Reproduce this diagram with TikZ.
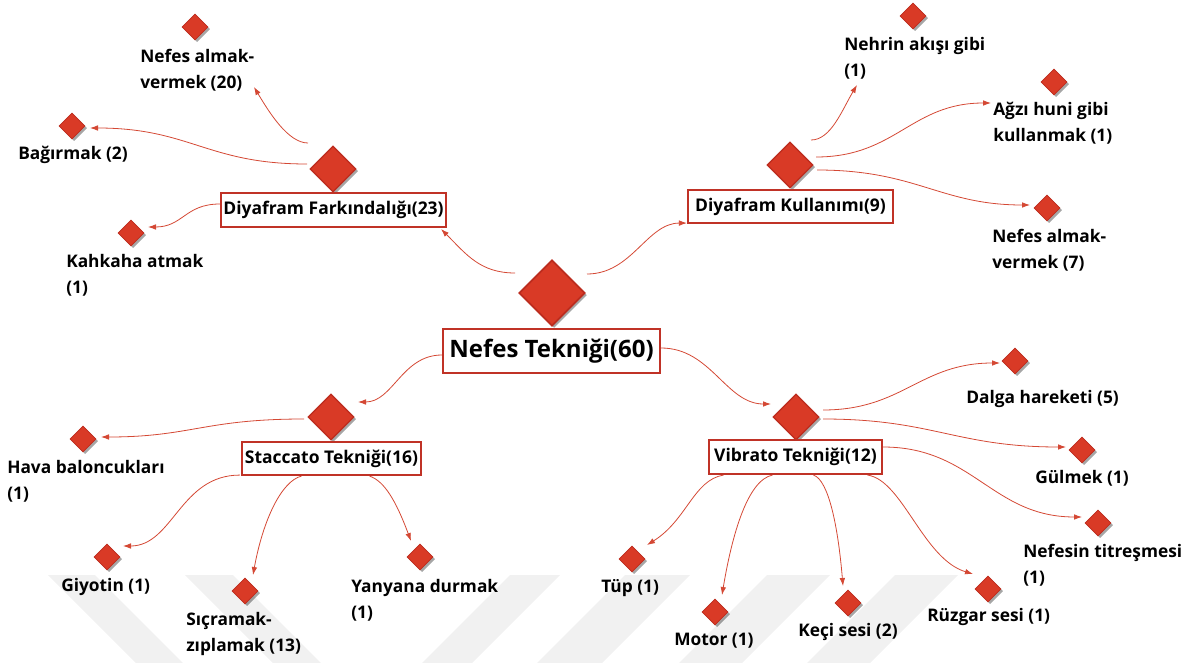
\documentclass[tikz,border=0pt]{standalone}
\usepackage{fontspec}
\setmainfont{Open Sans}
\usetikzlibrary{shapes.geometric,shadows,arrows.meta}

\definecolor{nred}{RGB}{217,58,38}
\definecolor{dred}{RGB}{188,44,30}
\definecolor{bred}{RGB}{192,50,38}
\definecolor{lred}{RGB}{212,72,52}
\definecolor{wmgray}{RGB}{241,241,241}

\tikzset{
	dia/.style={diamond, fill=nred, draw=dred, line width=0.6pt, inner sep=0pt,
		drop shadow={shadow xshift=1.6pt, shadow yshift=-1.6pt, fill=black, opacity=0.35}},
	leafdia/.style={dia, minimum size=19.5pt},
	hubdia/.style={dia, minimum size=34.5pt, line width=0.9pt},
	hub/.style={draw=bred, line width=1.6pt, fill=white, inner sep=0pt,
		font=\fontsize{13.1}{15}\selectfont\bfseries},
	leaf/.style={anchor=west, align=left, inner sep=0pt,
		font=\fontsize{13}{19.5}\selectfont\bfseries},
	link/.style={draw=lred, line width=0.6pt, -{Latex[length=6pt,width=4.2pt]}},
}

\begin{document}
\begin{tikzpicture}[x=0.75pt,y=-0.75pt]
	\useasboundingbox (0,0) rectangle (1185,663);
	
	% faint watermark at the bottom
	\fill[wmgray] (48,575) -- (95,575) -- (183,663) -- (136,663) -- cycle;
	\fill[wmgray] (185,575) -- (233,575) -- (321,663) -- (273,663) -- cycle;
	\fill[wmgray] (510,575) -- (560,575) -- (472,663) -- (422,663) -- cycle;
	\fill[wmgray] (625,575) -- (690,575) -- (602,663) -- (537,663) -- cycle;
	\fill[wmgray] (767,575) -- (830,575) -- (742,663) -- (679,663) -- cycle;
	\fill[wmgray] (895,575) -- (958,575) -- (870,663) -- (807,663) -- cycle;
	
	% centre
	\node[dia, minimum size=49.5pt, line width=1.4pt] (dmain) at (552,293) {};
	\node[hub, minimum width=162.75pt, minimum height=33pt,
		font=\fontsize{18}{21}\selectfont\bfseries] (main) at (551.5,351) {Nefes Tekniği(60)};
	
	% second level
	\node[hubdia] (dfd) at (333,169) {};
	\node[hub, minimum width=168.75pt, minimum height=25.5pt] (fd) at (333.5,210) {Diyafram Farkındalığı(23)};
	\node[hubdia] (dku) at (790,165) {};
	\node[hub, minimum width=153.75pt, minimum height=24.75pt] (ku) at (790.5,206.5) {Diyafram Kullanımı(9)};
	\node[hubdia] (dst) at (331,417) {};
	\node[hub, minimum width=134.25pt, minimum height=24.75pt] (st) at (331.5,458.5) {Staccato Tekniği(16)};
	\node[hubdia] (dvi) at (796,417) {};
	\node[hub, minimum width=129.75pt, minimum height=25.5pt] (vi) at (795.5,457) {Vibrato Tekniği(12)};
	
	% leaves: diamond and label
	\node[leafdia] (dnav20) at (195,27) {};
	\node[leaf] (lnav20) at (140,70) {Nefes almak-\\vermek (20)};
	\node[leafdia] (dbag) at (72,126) {};
	\node[leaf] (lbag) at (18,155) {Bağırmak (2)};
	\node[leafdia] (dkah) at (131,233) {};
	\node[leaf] (lkah) at (66,275) {Kahkaha atmak\\(1)};
	
	\node[leafdia] (dneh) at (913,16) {};
	\node[leaf] (lneh) at (844,58) {Nehrin akışı gibi\\(1)};
	\node[leafdia] (dagz) at (1054,82) {};
	\node[leaf] (lagz) at (993,123) {Ağzı huni gibi\\kullanmak (1)};
	\node[leafdia] (dnav7) at (1047,208) {};
	\node[leaf] (lnav7) at (992,250) {Nefes almak-\\vermek (7)};
	
	\node[leafdia] (dhava) at (83,439) {};
	\node[leaf] (lhava) at (7,481) {Hava baloncukları\\(1)};
	\node[leafdia] (dgiy) at (107,557) {};
	\node[leaf] (lgiy) at (61,587) {Giyotin (1)};
	\node[leafdia] (dsic) at (245,591) {};
	\node[leaf] (lsic) at (186,634) {Sıçramak-\\zıplamak (13)};
	\node[leafdia] (dyan) at (420,557) {};
	\node[leaf] (lyan) at (351,600) {Yanyana durmak\\(1)};
	
	\node[leafdia] (ddal) at (1015,361) {};
	\node[leaf] (ldal) at (966,399) {Dalga hareketi (5)};
	\node[leafdia] (dgul) at (1082,450) {};
	\node[leaf] (lgul) at (1035,478) {Gülmek (1)};
	\node[leafdia] (dnef) at (1098,523) {};
	\node[leaf] (lnef) at (1023,565) {Nefesin titreşmesi\\(1)};
	\node[leafdia] (dtup) at (632,559) {};
	\node[leaf] (ltup) at (601,588) {Tüp (1)};
	\node[leafdia] (dmot) at (715,612) {};
	\node[leaf] (lmot) at (674,641) {Motor (1)};
	\node[leafdia] (dkec) at (848,603) {};
	\node[leaf] (lkec) at (798,632) {Keçi sesi (2)};
	\node[leafdia] (druz) at (988,589) {};
	\node[leaf] (lruz) at (927,617) {Rüzgar sesi (1)};
	
	% centre to second level
	\draw[link] ([shift={(-37,-20)}]dmain.center) .. controls +(-35,0) and +(25,25) .. ([shift={(-6,1)}]fd.south east);
	\draw[link] ([shift={(35,-19)}]dmain.center) .. controls +(45,0) and +(-40,0) .. ([shift={(0,-1)}]ku.south west);
	\draw[link] ([shift={(0,4)}]main.west) .. controls +(-40,0) and +(35,0) .. ([shift={(27,-15)}]dst.center);
	\draw[link] ([shift={(0,-3)}]main.east) .. controls +(50,0) and +(-45,0) .. ([shift={(-25,-13)}]dvi.center);
	
	% Diyafram Farkindaligi
	\draw[link] ([shift={(-25,-26)}]dfd.center) .. controls +(-20,0) and +(15,25) .. ([shift={(59,60)}]dnav20.center);
	\draw[link] ([shift={(-26,-5)}]dfd.center) .. controls +(-100,0) and +(100,0) .. ([shift={(18,2)}]dbag.center);
	\draw[link] ([shift={(0,-6)}]fd.west) .. controls +(-35,0) and +(35,0) .. ([shift={(17,-6)}]dkah.center);
	
	% Diyafram Kullanimi
	\draw[link] ([shift={(21,-25)}]dku.center) .. controls +(20,0) and +(-15,25) .. ([shift={(-56,69)}]dneh.center);
	\draw[link] ([shift={(26,-8)}]dku.center) .. controls +(80,0) and +(-80,0) .. ([shift={(-63,21)}]dagz.center);
	\draw[link] ([shift={(27,5)}]dku.center) .. controls +(100,0) and +(-90,0) .. ([shift={(-17,-3)}]dnav7.center);
	
	% Staccato
	\draw[link] ([shift={(-27,2)}]dst.center) .. controls +(-100,0) and +(90,0) .. ([shift={(18,-2)}]dhava.center);
	\draw[link] ([shift={(-1,-1)}]st.south west) .. controls +(-60,0) and +(50,0) .. ([shift={(16,-11)}]dgiy.center);
	\draw[link] ([shift={(-30,0)}]st.south) .. controls +(-20,5) and +(10,-55) .. ([shift={(8,-16)}]dsic.center);
	\draw[link] ([shift={(38,0)}]st.south) .. controls +(15,5) and +(-15,-40) .. ([shift={(-9,-16)}]dyan.center);
	
	% Vibrato
	\draw[link] ([shift={(27,-7)}]dvi.center) .. controls +(80,0) and +(-80,0) .. ([shift={(-15,2)}]ddal.center);
	\draw[link] ([shift={(27,2)}]dvi.center) .. controls +(110,0) and +(-110,0) .. ([shift={(-16,-3)}]dgul.center);
	\draw[link] ([shift={(0,-10)}]vi.east) .. controls +(90,0) and +(-90,0) .. ([shift={(-16,-6)}]dnef.center);
	\draw[link] ([shift={(-72,0)}]vi.south) .. controls +(-30,5) and +(40,-25) .. ([shift={(15,-14)}]dtup.center);
	\draw[link] ([shift={(-23,0)}]vi.south) .. controls +(-25,5) and +(10,-60) .. ([shift={(7,-17)}]dmot.center);
	\draw[link] ([shift={(18,0)}]vi.south) .. controls +(15,5) and +(-5,-60) .. ([shift={(-5,-17)}]dkec.center);
	\draw[link] ([shift={(72,0)}]vi.south) .. controls +(35,5) and +(-50,-15) .. ([shift={(-15,-15)}]druz.center);
	
\end{tikzpicture}
\end{document}
